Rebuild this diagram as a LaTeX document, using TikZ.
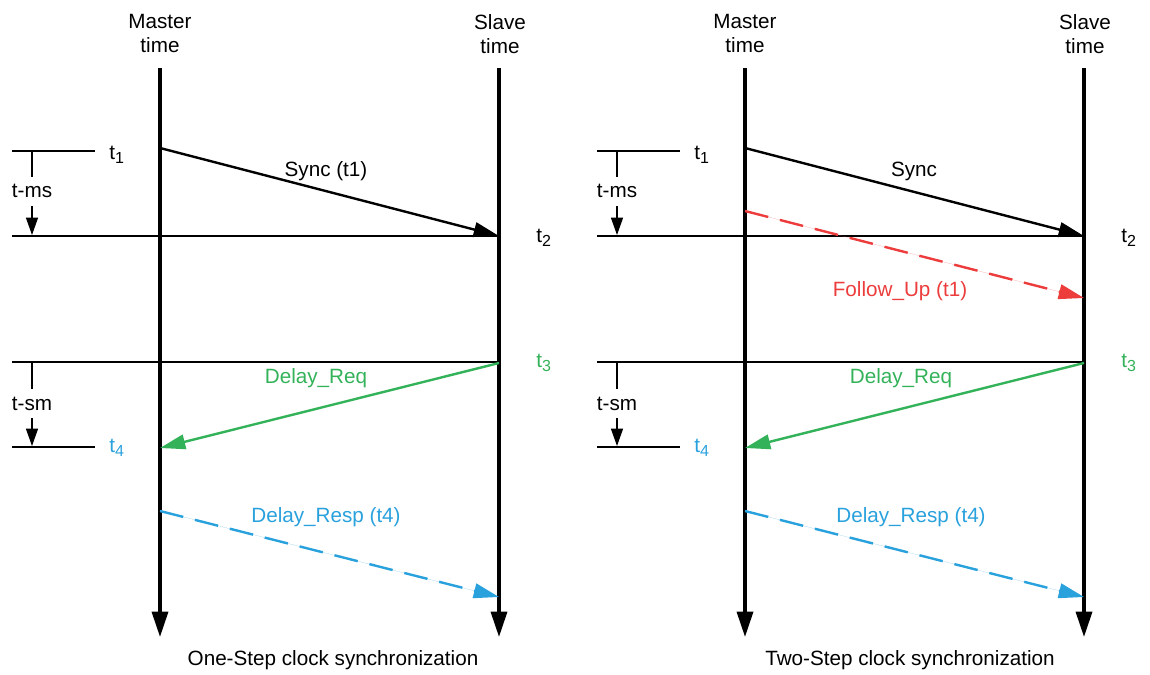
\documentclass[tikz,border=0pt]{standalone}
\usepackage{fontspec}
\setmainfont{Liberation Sans}
\usetikzlibrary{arrows.meta}
\definecolor{cgreen}{RGB}{52,178,90}
\definecolor{cblue}{RGB}{41,161,220}
\definecolor{cred}{RGB}{236,60,60}
\newcommand\tsub[1]{t\raisebox{-0.45ex}{\fontsize{12}{12}\selectfont #1}}
\newcommand\halfdiag[4]{%
\begin{scope}[shift={(#2,0)}]
\node[lbl] (#1mlab) at (160,33) {Master\\time};
\node[lbl] (#1slab) at (500,34) {Slave\\time};
\coordinate (#1mt) at (160,68); \coordinate (#1mb) at (160,637);
\coordinate (#1st) at (499,68); \coordinate (#1sb) at (499,637);
\draw[timeline] (#1mt) -- (#1mb);
\draw[timeline] (#1st) -- (#1sb);
\coordinate (#1a1) at (12,151); \coordinate (#1a2) at (95,151);
\coordinate (#1b1) at (12,236); \coordinate (#1b2) at (499,236);
\coordinate (#1c1) at (12,362); \coordinate (#1c2) at (499,362);
\coordinate (#1d1) at (12,447); \coordinate (#1d2) at (95,447);
\draw[guide] (#1a1) -- (#1a2);
\draw[guide] (#1b1) -- (#1b2);
\draw[guide] (#1c1) -- (#1c2);
\draw[guide] (#1d1) -- (#1d2);
\coordinate (#1k1) at (32,151); \coordinate (#1k2) at (32,177);
\coordinate (#1k3) at (32,206); \coordinate (#1k4) at (32,235);
\draw[guide] (#1k1) -- (#1k2);
\node[lbl] (#1tms) at (32,191) {t-ms};
\draw[small] (#1k3) -- (#1k4);
\coordinate (#1j1) at (32,362); \coordinate (#1j2) at (32,389);
\coordinate (#1j3) at (32,418); \coordinate (#1j4) at (32,446);
\draw[guide] (#1j1) -- (#1j2);
\node[lbl] (#1tsm) at (32,404) {t-sm};
\draw[small] (#1j3) -- (#1j4);
\node[lbl,anchor=base west] (#1t1) at (109,159) {\tsub{1}};
\node[lbl,anchor=base west] (#1t2) at (536,242) {\tsub{2}};
\node[lbl,anchor=base west,text=cgreen] (#1t3) at (536,367) {\tsub{3}};
\node[lbl,anchor=base west,text=cblue] (#1t4) at (109,452) {\tsub{4}};
\coordinate (#1s1) at (160,148); \coordinate (#1s2) at (499,236);
\draw[msg] (#1s1) -- (#1s2);
\node[lbl] (#1synclab) at (#4,171) {#3};
\coordinate (#1r1) at (499,363); \coordinate (#1r2) at (160,448);
\draw[msg,draw=cgreen,fill=cgreen] (#1r1) -- (#1r2);
\node[lbl,text=cgreen] (#1reqlab) at (316,378) {Delay\_Req};
\coordinate (#1p1) at (160,511); \coordinate (#1p2) at (499,597);
\draw[dashmsg,draw=cblue,fill=cblue] (#1p1) -- (#1p2);
\node[lbl,text=cblue] (#1resplab) at (326,517) {Delay\_Resp (t4)};
\end{scope}}
\begin{document}
\begin{tikzpicture}[x=0.75pt,y=-0.75pt,
  lbl/.style={font=\fontsize{15.5}{18}\selectfont, inner sep=0pt, align=center},
  timeline/.style={line width=2.5pt,-{Triangle[length=19pt,width=12pt]}},
  guide/.style={line width=0.9pt},
  msg/.style={line width=1.8pt,-{Triangle[length=19pt,width=11pt]}},
  dashmsg/.style={msg,dash pattern=on 18pt off 9pt},
  small/.style={line width=0.9pt,-{Triangle[length=13pt,width=9pt]}}
]
\useasboundingbox (0,0) rectangle (1150,675);
\halfdiag{L}{0}{Sync (t1)}{326}
\halfdiag{R}{585}{Sync}{329}
\coordinate (Rf1) at (745,211); \coordinate (Rf2) at (1084,298);
\draw[dashmsg,draw=cred,fill=cred] (Rf1) -- (Rf2);
\node[lbl,text=cred] (Rfulab) at (900,291) {Follow\_Up (t1)};
\node[lbl] (Lcap) at (333,660) {One-Step clock synchronization};
\node[lbl] (Rcap) at (910,660) {Two-Step clock synchronization};
\end{tikzpicture}
\end{document}
